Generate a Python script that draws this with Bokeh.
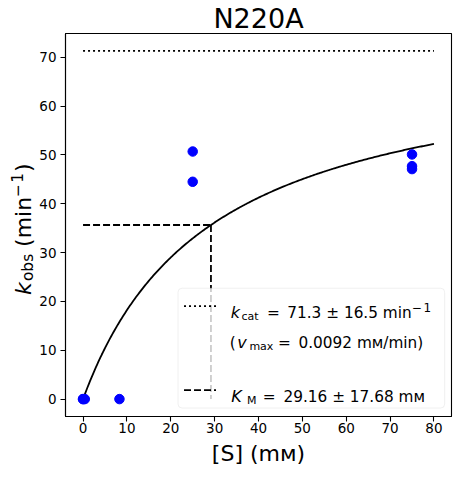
import numpy as np
from bokeh.plotting import figure
from bokeh.layouts import row
from bokeh.models import Label, BoxAnnotation, Range1d, FixedTicker
from bokeh.core.properties import value
from bokeh.embed import file_html
from bokeh.resources import INLINE

# ---- data ----
title_text = "N220A"
x_label = "[S] (m\u1d0d)"
s_obs = [0.0, 0.0, 0.4, 8.3, 25.0, 25.0, 75.0, 75.0, 75.0]
k_obs = [0.0, 0.0, 0.0, 0.0, 50.7, 44.5, 50.1, 47.7, 47.1]
kcat = 71.3
kcat_err = 16.5
vmax = 0.0092
KM = 29.16
KM_err = 17.68
s_max = 80.0
x_ticks = [0, 10, 20, 30, 40, 50, 60, 70, 80]
y_ticks = [0, 10, 20, 30, 40, 50, 60, 70]

# fitted Michaelis-Menten curve from the fitted parameters
s_fit = np.linspace(0.0, s_max, 300)
k_fit = kcat * s_fit / (KM + s_fit)

FONT = "DejaVu Sans"
TOTAL_W, TOTAL_H = 453, 468
YLAB_W = 36
MAIN_W = TOTAL_W - YLAB_W
xmin, xmax = -0.05 * s_max, 1.05 * s_max
ymin, ymax = -0.05 * kcat, 1.05 * kcat
yr = Range1d(ymin, ymax)


def rdx(px):  # reference-image pixel -> data x
    return (px - 90.0) / 4.3875


def rdy(py):  # reference-image pixel -> data y
    return (407.7 - py) / 4.92


# ---- main plot ----
p = figure(width=MAIN_W, height=TOTAL_H, x_range=Range1d(xmin, xmax), y_range=yr,
           output_backend="svg", toolbar_location=None, title=title_text,
           min_border_left=28, min_border_right=2, min_border_top=30, min_border_bottom=51)
p.title.align = "center"
p.title.text_font = FONT
p.title.text_font_size = "27px"
p.title.text_font_style = "normal"
p.title.text_color = "black"
p.title.standoff = 0
p.grid.visible = False
p.outline_line_color = "black"
p.outline_line_width = 1.1
p.background_fill_color = "white"
p.border_fill_color = "white"

for ax, ticks in ((p.xaxis[0], x_ticks), (p.yaxis[0], y_ticks)):
    ax.ticker = FixedTicker(ticks=ticks)
    ax.major_tick_out = 5
    ax.major_tick_in = 0
    ax.minor_tick_line_color = None
    ax.axis_line_color = "black"
    ax.axis_line_width = 1.1
    ax.major_tick_line_width = 1.1
    ax.major_label_text_font = FONT
    ax.major_label_text_font_size = "13.5px"
    ax.major_label_text_color = "black"
p.yaxis[0].major_label_standoff = 4
p.xaxis[0].major_label_standoff = 1
p.xaxis[0].axis_label = x_label
p.xaxis[0].axis_label_text_font = FONT
p.xaxis[0].axis_label_text_font_size = "22px"
p.xaxis[0].axis_label_text_font_style = "normal"
p.xaxis[0].axis_label_text_color = "black"
p.xaxis[0].axis_label_standoff = 5

DOT = "2 3"
DASH = "7 3"
p.line([0, s_max], [kcat, kcat], line_color="black", line_width=1.8, line_dash=DOT)
p.line([0, KM], [kcat / 2, kcat / 2], line_color="black", line_width=1.8, line_dash=DASH)
p.line([KM, KM], [kcat / 2, 0], line_color="black", line_width=1.8, line_dash=DASH)
p.line(s_fit, k_fit, line_color="black", line_width=1.8)
p.scatter(s_obs, k_obs, size=9.5, color="blue")

# legend
box = BoxAnnotation(left=rdx(185), right=rdx(451.7), top=rdy(296), bottom=rdy(416.7),
                    fill_color="white", fill_alpha=0.8, line_color="#cccccc", line_width=1,
                    border_radius=4)
p.add_layout(box)
h1 = p.line([rdx(191), rdx(223)], [rdy(314), rdy(314)], line_color="black", line_width=1.8,
            line_dash=DOT)
h1.level = "overlay"
h2 = p.line([rdx(191), rdx(223)], [rdy(398.7), rdy(398.7)], line_color="black", line_width=1.8,
            line_dash=DASH)
h2.level = "overlay"


def lab(x, y, text, size, style="normal"):
    p.add_layout(Label(x=x, y=y, text=text, text_font=FONT, text_font_size=size,
                       text_font_style=style, text_color="black",
                       text_align="left", text_baseline="alphabetic"))


LF, SF, UF = "15.3px", "11px", "12px"
b1, b2, b3 = 320.7, 350.7, 405.4
lab(rdx(237.8), rdy(b1), "k", "16px", "italic")
lab(rdx(248.4), rdy(b1 + 4), "cat", SF)
lab(rdx(274.0), rdy(b1), "=", LF)
lab(rdx(294.3), rdy(b1), f"{kcat} \u00b1 {kcat_err} min", LF)
lab(rdx(418.8), rdy(b1 - 5.2), "\u2212", UF)
lab(rdx(430.6), rdy(b1 - 5.2), "1", UF)

lab(rdx(236.8), rdy(b2), "(", LF)
lab(rdx(244.3), rdy(b2), "v", "16px", "italic")
lab(rdx(256.4), rdy(b2 + 4), "max", SF)
lab(rdx(285.0), rdy(b2), "=", LF)
lab(rdx(305.5), rdy(b2), f"{vmax} m\u1d0d/min)", LF)

lab(rdx(238.3), rdy(b3), "K", "16px", "italic")
lab(rdx(254.0), rdy(b3 + 4), "M", SF)
lab(rdx(269.8), rdy(b3), "=", LF)
lab(rdx(290.5), rdy(b3), f"{KM} \u00b1 {KM_err} m\u1d0d", LF)

# ---- y label strip (shares the y range, so its frame aligns with the main frame) ----
yf = figure(width=YLAB_W, height=TOTAL_H, x_range=Range1d(0, YLAB_W), y_range=yr,
            output_backend="svg", toolbar_location=None,
            x_axis_location=None, y_axis_location=None,
            min_border=0, min_border_left=0, min_border_right=0,
            min_border_top=0, min_border_bottom=0)
yf.grid.visible = False
yf.outline_line_color = None
yf.background_fill_color = "white"
yf.border_fill_color = "white"


def gtext(x, y, text, size, style="normal"):
    yf.text(x=[x], y=[y], text=[text], angle=np.pi / 2, text_font=value(FONT),
            text_font_size=value(size), text_font_style=style, text_color="black",
            text_align="left", text_baseline="alphabetic")


PPU = 4.9            # pixels per y unit in the frame
F, SFY = 22.0, 15.4
xb = 23.0
center = rdy(236.5)
y0 = center - 66.0 / PPU
gtext(xb, y0, "k", "22px", "italic")
y1 = y0 + (0.579 * F + 1.2) / PPU
gtext(xb + 4.5, y1, "obs", "15.4px")
y2 = y1 + (1.768 * SFY + 0.318 * F) / PPU
gtext(xb, y2, "(min", "22px")
y3 = y2 + (2.276 * F) / PPU
gtext(xb - 7.0, y3, "\u2212", "15.4px")
y3b = y3 + (0.838 * SFY + 1.5) / PPU
gtext(xb - 7.0, y3b, "1", "15.4px")
y4 = y3b + (0.636 * SFY + 1.0) / PPU
gtext(xb, y4, ")", "22px")

layout = row(yf, p, spacing=0)
open("out.html", "w").write(file_html(layout, INLINE))
